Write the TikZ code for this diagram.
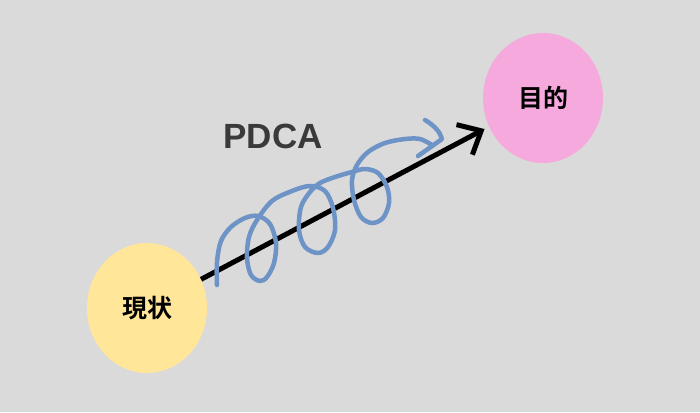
\documentclass[tikz,border=0pt]{standalone}
\usepackage{fontspec}
\setmainfont{Liberation Sans}
\newfontfamily\cjk{Noto Sans CJK JP}[BoldFont={* Bold}]
\usetikzlibrary{shapes.geometric,arrows.meta}
\definecolor{bg}{HTML}{DADADA}
\definecolor{yel}{HTML}{FFE699}
\definecolor{pnk}{HTML}{F5A9DC}
\definecolor{spir}{HTML}{6E93C6}
\definecolor{txtg}{HTML}{3A3A3A}
\tikzset{
  blob/.style={ellipse, inner sep=0pt, minimum width=120pt, minimum height=130pt},
  jp/.style={font=\cjk\bfseries\fontsize{25pt}{25pt}\selectfont, text=black},
  spiral/.style={spir, line width=4.5pt, line cap=round, line join=round},
}
\begin{document}
\begin{tikzpicture}[x=1pt,y=-1pt]
\fill[bg] (0,0) rectangle (700,412);
\useasboundingbox (0,0) rectangle (700,412);
\node[blob, fill=yel, jp] (cur) at (147,308) {現状};
\node[blob, fill=pnk, jp] (goal) at (543,98) {目的};
\node[font=\bfseries\fontsize{35pt}{35pt}\selectfont, text=txtg] (pdca) at (273,136) {PDCA};
\draw[black, line width=5pt, shorten >=5pt, -{Straight Barb[length=19pt,width=34pt]}] (cur) -- (goal);
\draw[spiral] plot[smooth, tension=0.55] coordinates {
(217,285) (217,262) (221,241) (231,227) (245,218) (258,216) (270,224) (276,243) (274,263) (267,277) (260,281) (251,275) (247,258) (249,237) (257,220) (272,201) (292,191) (310,186) (325,191) (333,208) (335,230) (328,247) (318,253) (305,247) (299,230) (301,207) (310,192) (320,183) (335,177) (352,172) (365,169) (378,173) (387,187) (389,203) (383,218) (372,223) (361,217) (354,200) (352,180) (357,165) (368,152) (385,143) (405,139) (420,139) (432,145)};
\draw[spiral] (425,120) .. controls (435,126) and (440,132) .. (442,139) -- (418,156);
\end{tikzpicture}
\end{document}
